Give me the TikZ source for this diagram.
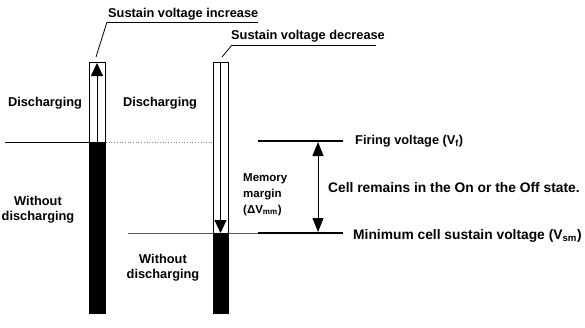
\documentclass[tikz,border=0pt]{standalone}
\usepackage{fontspec}
\setmainfont{Liberation Sans}
\usetikzlibrary{arrows.meta}
\begin{document}
\begin{tikzpicture}[x=1pt,y=-1pt,
  lbl/.style={font=\bfseries\fontsize{12.8}{14}\selectfont, inner sep=0pt},
  big/.style={font=\bfseries\fontsize{13.8}{15}\selectfont, inner sep=0pt},
  small/.style={font=\bfseries\fontsize{11.5}{16}\selectfont, inner sep=0pt, align=left},
  barframe/.style={draw=black, line width=1pt, fill=white},
  barfill/.style={fill=black, draw=black, line width=1pt},
  thinline/.style={line width=0.6pt, gray!70!black},
  dotline/.style={line width=0.7pt, gray, dotted},
  level/.style={line width=1.6pt, black},
  leader/.style={line width=0.8pt, black},
  bigtip/.style={-{Triangle[width=12pt,length=13pt]}, line width=0.9pt},
  dbl/.style={{Triangle[width=11pt,length=14pt]}-{Triangle[width=11pt,length=14pt]}, line width=1pt}
]
\useasboundingbox (0,0) rectangle (585,327);
% reference lines
\draw[line width=1pt] (5,142) -- (89,142);
\draw[dotline] (106,142) -- (213,142);
\draw[thinline] (128,233) -- (258,233);
\draw[level] (258,141) coordinate (fa) -- (343,141) coordinate (fb);
\draw[level] (258,233) coordinate (ma) -- (343,233) coordinate (mb);
% left bar
\draw[barframe] (89,62) rectangle (105,142);
\draw[barfill] (89,142) rectangle (105,313);
\coordinate (lbot) at (97,142);
\coordinate (ltop) at (97,63);
\draw[bigtip] (lbot) -- (ltop);
% right bar
\draw[barframe] (213,62) rectangle (228,233);
\draw[barfill] (213,233) rectangle (228,313);
\coordinate (rtop) at (220.5,62);
\coordinate (rbot) at (220.5,233);
\draw[bigtip] (rtop) -- (rbot);
% double arrow
\coordinate (da) at (318,142);
\coordinate (db) at (318,232);
\draw[dbl] (da) -- (db);
% titles with underline leaders
\node[lbl, anchor=west] (inc) at (108,14) {Sustain voltage increase};
\draw[leader] (107,22) -- (258,22);
\draw[leader] (107,22) -- (96,57);
\node[lbl, anchor=west] (dec) at (231,36) {Sustain voltage decrease};
\draw[leader] (232,45) -- (376,45);
\draw[leader] (232,45) -- (222,57);
% labels
\node[lbl] (d1) at (45,103) {Discharging};
\node[lbl] (d2) at (160,103) {Discharging};
\node[lbl, align=center] (w1) at (38,210) {Without\\[1pt]discharging};
\node[lbl, align=center] (w2) at (163,268) {Without\\[1pt]discharging};
\node[small, anchor=north west] (mm) at (243,173) {Memory\\margin\\(ΔV\textsubscript{mm})};
\node[big, anchor=west] (cell) at (328,188) {Cell remains in the On or the Off state.};
\node[lbl, anchor=west] (fire) at (355,141) {Firing voltage (V\textsubscript{f})};
\node[big, anchor=west] (minv) at (353,236) {Minimum cell sustain voltage (V\textsubscript{sm})};
\end{tikzpicture}
\end{document}
